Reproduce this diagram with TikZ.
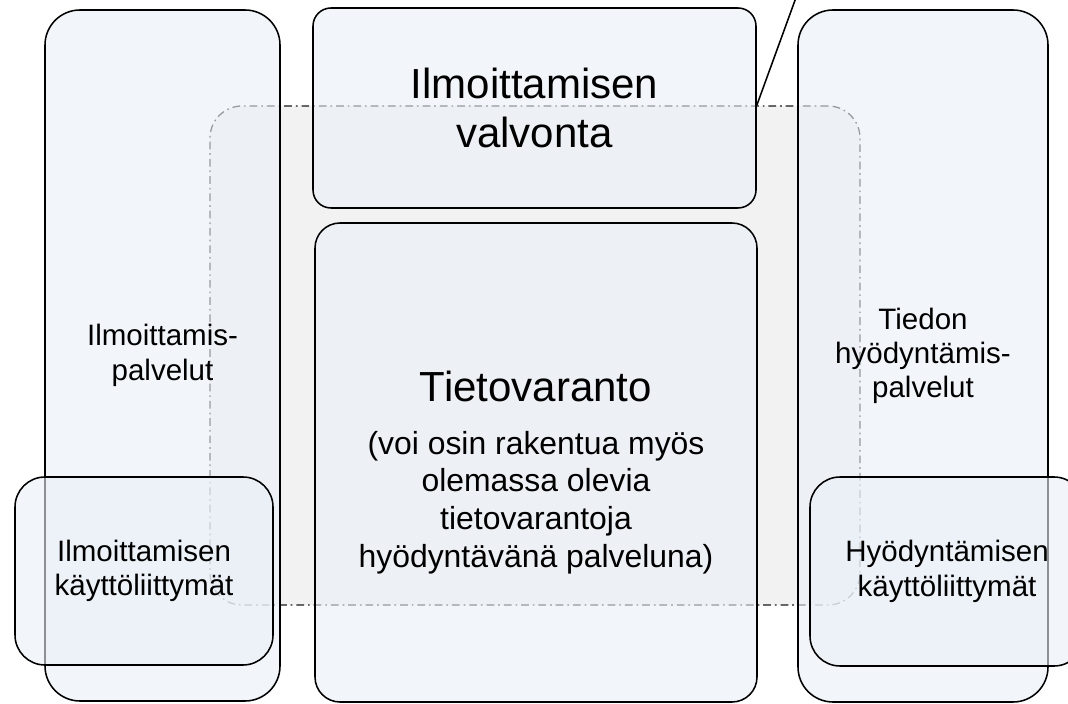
\documentclass[tikz,border=0pt]{standalone}
\usepackage{fontspec}
\setmainfont{Liberation Sans}
\usetikzlibrary{positioning}
\definecolor{boxfill}{RGB}{234,240,247}
\definecolor{areafill}{RGB}{242,242,242}

\begin{document}
\begin{tikzpicture}
			\tikzstyle{box}=[rectangle, draw, line width=1.1pt, fill=boxfill, fill opacity=0.6, text opacity=1, align=center, inner sep=0pt]
			\tikzstyle{smalltext}=[font=\fontsize{21}{24.4}\selectfont]
			\tikzstyle{bigtext}=[font=\fontsize{29.9}{34.9}\selectfont]
			\tikzstyle{line}=[draw, line width=1.1pt]
			\useasboundingbox (0,0) rectangle (26.7,17.575);

			\node[rectangle, draw=black!90, line width=0.9pt, dash pattern=on 5.5pt off 2.8pt on 1.2pt off 2.8pt, fill=areafill, rounded corners=0.8cm, minimum width=16.25cm, minimum height=12.475cm] at (13.375, 8.6875) (area) {};

			\node[box, smalltext, rounded corners=0.875cm, minimum width=5.875cm, minimum height=17.275cm] at (4.0625, 8.6875) (ilmPalvelut) {Ilmoittamis-\\palvelut};
			\node[box, smalltext, rounded corners=0.875cm, minimum width=6.25cm, minimum height=17.3cm] at (23.075, 8.675) (hyoPalvelut) {Tiedon\\hyödyntämis-\\palvelut};

			\node[box, bigtext, rounded corners=0.45cm, minimum width=11.075cm, minimum height=5cm] at (13.3625, 14.875) (valvonta) {Ilmoittamisen\\valvonta};
			\node[box, font=\fontsize{22.7}{26.8}\selectfont, rounded corners=0.625cm, minimum width=11.05cm, minimum height=11.975cm] at (13.4, 6.0125) (varanto) {{\fontsize{29.9}{34.9}\selectfont Tietovaranto}\\[11pt](voi osin rakentua myös\\olemassa olevia\\tietovarantoja\\hyödyntävänä palveluna)\\[-36pt]};

			\node[box, smalltext, rounded corners=0.75cm, minimum width=6.45cm, minimum height=4.7cm] at (3.6, 3.3) (ilmKayttis) {Ilmoittamisen\\käyttöliittymät};
			\node[box, smalltext, rounded corners=0.75cm, minimum width=6.85cm, minimum height=4.725cm] at (23.675, 3.2875) (hyoKayttis) {Hyödyntämisen\\käyttöliittymät};

			\coordinate (lineStart) at (valvonta.east |- area.north);
			\coordinate (lineEnd) at (19.96, 17.8);
			\path[line] (lineStart) -- (lineEnd);
\end{tikzpicture}
\end{document}
